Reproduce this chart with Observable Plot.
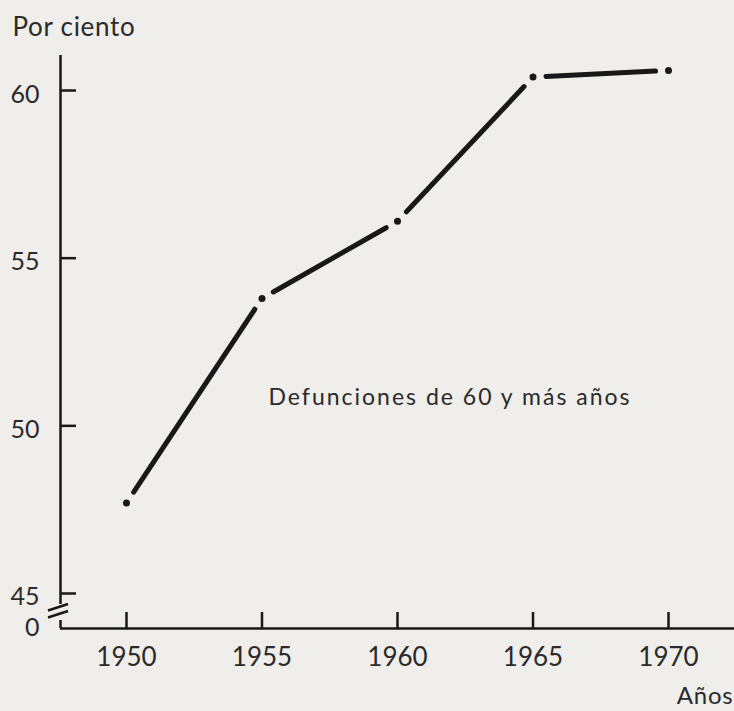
<!DOCTYPE html>
<html>
<head>
<meta charset="utf-8">
<script src="https://cdn.jsdelivr.net/npm/d3@7"></script>
<script src="https://cdn.jsdelivr.net/npm/@observablehq/plot@0.6"></script>
<style>
  html, body { margin: 0; padding: 0; background: #efeeeb; }
  #chart { width: 734px; height: 711px; }
</style>
</head>
<body>
<div id="chart"></div>
<script>
// ---- data ----
const years = [1950, 1955, 1960, 1965, 1970];
const values = [47.7, 53.8, 56.1, 60.4, 60.6];
const xTicks = [1950, 1955, 1960, 1965, 1970];
const yTicks = [45, 50, 55, 60];
const yBaseLabel = "0";
const yTitle = "Por ciento";
const xTitle = "Años";
const seriesLabel = "Defunciones de 60 y más años";

// ---- layout / scale setup (axis break between 0 and 45) ----
const W = 734, H = 711, ML = 60, MR = 0, MT = 55, MB = 83;
const xDomain = [1947.565, 1972.435];
const yDomain = [43.956, 61.044];
const breakGap = [44.195, 44.672];
const breakMarks = [44.583, 44.374];
const tickLen = 16; // px
const tickLenY = tickLen * (yDomain[1] - yDomain[0]) / (H - MT - MB);
const tickLenX = tickLen * (xDomain[1] - xDomain[0]) / (W - ML - MR);

const points = years.map((year, i) => ({year, value: values[i]}));
const segments = d3.pairs(points).map(([a, b]) => ({x1: a.year, y1: a.value, x2: b.year, y2: b.value}));
const axisSegments = [
  {y1: breakGap[1], y2: yDomain[1]},
  {y1: yDomain[0], y2: breakGap[0]}
];
const ink = "#181818";
const textInk = "#2a2a2a";

// the "//" axis break, positioned through the plot's y scale
const breakMark = (index, scales, vals, dimensions) => {
  const g = d3.create("svg:g").attr("stroke", ink).attr("stroke-width", 2.5);
  const x0 = dimensions.marginLeft;
  for (const v of breakMarks) {
    const yp = scales.y(v);
    g.append("line").attr("x1", x0 - 12).attr("y1", yp + 3.5).attr("x2", x0 + 8).attr("y2", yp - 3);
  }
  return g.node();
};

const chart = Plot.plot({
  width: W, height: H, marginLeft: ML, marginRight: MR, marginTop: MT, marginBottom: MB,
  style: {background: "transparent", fontFamily: "Lato, 'Open Sans', sans-serif", color: textInk},
  x: {domain: xDomain, axis: null},
  y: {domain: yDomain, axis: null},
  marks: [
    Plot.ruleY([yDomain[0]], {stroke: ink, strokeWidth: 2.5}),
    Plot.ruleX(axisSegments, {x: xDomain[0], y1: "y1", y2: "y2", stroke: ink, strokeWidth: 2.5}),
    // inward ticks
    Plot.ruleX(xTicks, {x: d => d, y1: yDomain[0], y2: yDomain[0] + tickLenY, stroke: ink, strokeWidth: 2.5}),
    Plot.ruleY(yTicks, {y: d => d, x1: xDomain[0], x2: xDomain[0] + tickLenX, stroke: ink, strokeWidth: 2.5}),
    breakMark,
    Plot.axisX({ticks: xTicks, tickSize: 0, tickPadding: 19, tickFormat: d => String(d), fontSize: 26, fill: textInk, label: null}),
    Plot.axisY({ticks: yTicks, tickSize: 0, tickPadding: 21, dy: 4, tickFormat: d => String(d), fontSize: 25, fill: textInk, label: null}),
    Plot.text([yBaseLabel], {frameAnchor: "bottom-left", dx: -21, dy: -1, textAnchor: "end", lineAnchor: "middle", fontSize: 25, fill: textInk}),
    Plot.arrow(segments, {x1: "x1", y1: "y1", x2: "x2", y2: "y2", bend: 0, headLength: 0, inset: 13, stroke: ink, strokeWidth: 5, strokeLinecap: "round"}),
    Plot.dot(points, {x: "year", y: "value", r: 3.5, fill: ink, stroke: "none"}),
    Plot.text([seriesLabel], {frameAnchor: "top-left", dx: 208, dy: 342, textAnchor: "start", lineAnchor: "middle", fontSize: 23, fill: textInk}),
    Plot.text([yTitle], {frameAnchor: "top-left", dx: -48, dy: -28, textAnchor: "start", lineAnchor: "middle", fontSize: 26, fill: textInk}),
    Plot.text([xTitle], {frameAnchor: "bottom-right", dx: -1, dy: 68, textAnchor: "end", lineAnchor: "middle", fontSize: 24, fill: textInk})
  ]
});

const spacing = {[seriesLabel]: 2, [yTitle]: 0.7, [xTitle]: 0.8};
d3.select(chart).selectAll("text").each(function () {
  const s = spacing[this.textContent];
  if (s !== undefined) this.setAttribute("letter-spacing", s);
});
document.getElementById("chart").append(chart);
</script>
</body>
</html>
